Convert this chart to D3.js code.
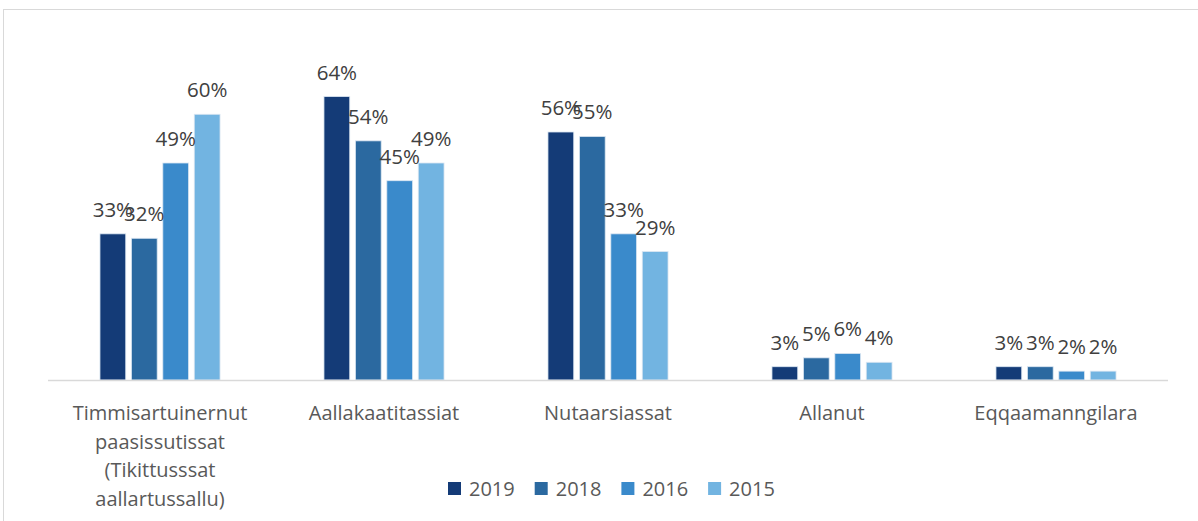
<!DOCTYPE html>
<html>
<head>
<meta charset="utf-8">
<script src="https://cdn.jsdelivr.net/npm/d3@7"></script>
<style>
  body { margin: 0; background: #fff; }
  text { font-family: "Open Sans", "Liberation Sans", sans-serif; }
</style>
</head>
<body>
<div id="chart"></div>
<script>
var categories = [
  ["Timmisartuinernut", "paasissutissat", "(Tikittusssat", "aallartussallu)"],
  ["Aallakaatitassiat"],
  ["Nutaarsiassat"],
  ["Allanut"],
  ["Eqqaamanngilara"]
]
var series = ["2019", "2018", "2016", "2015"]
var values2019 = [33, 64, 56, 3, 3]
var values2018 = [32, 54, 55, 5, 3]
var values2016 = [49, 45, 33, 6, 2]
var values2015 = [60, 49, 29, 4, 2]
var colors = ["#143b77", "#2b69a0", "#3a8acb", "#72b4e1"]

var allValues = [values2019, values2018, values2016, values2015]
var width = 1198, height = 521
var margin = {top: 70, left: 48, right: 30, bottom: 141}

var svg = d3.select("#chart").append("svg")
    .attr("width", width)
    .attr("height", height)

// chart frame, only top and left edges show in the picture
svg.append("rect")
    .attr("x", 3.5).attr("y", 9.5)
    .attr("width", width + 20).attr("height", height + 20)
    .style("fill", "none")
    .style("stroke", "#d9d9d9")
    .style("stroke-width", 1)

var catIdx = d3.range(categories.length)

var x0 = d3.scaleBand()
    .domain(catIdx)
    .range([margin.left, width - margin.right])
    .paddingInner(0.464)
    .paddingOuter(0.232)

var x1 = d3.scaleBand()
    .domain(series)
    .range([0, x0.bandwidth()])
    .paddingInner(0.18)

var y = d3.scaleLinear()
    .domain([0, 70])
    .range([height - margin.bottom, margin.top])

var data = []
catIdx.forEach(function(c) {
  series.forEach(function(s, i) {
    data.push({cat: c, series: s, color: colors[i], value: allValues[i][c]})
  })
})

var g = svg.append("g")

g.selectAll(".bar")
    .data(data)
    .enter()
    .append("rect")
    .attr("class", "bar")
    .attr("x", function(d) { return x0(d.cat) + x1(d.series) })
    .attr("y", function(d) { return y(d.value) })
    .attr("width", x1.bandwidth())
    .attr("height", function(d) { return y(0) - y(d.value) })
    .style("fill", function(d) { return d.color })
    .style("stroke", "#dbe6f2")
    .style("stroke-width", 0.8)

g.selectAll(".label")
    .data(data)
    .enter()
    .append("text")
    .attr("class", "label")
    .attr("x", function(d) { return x0(d.cat) + x1(d.series) + x1.bandwidth() / 2 })
    .attr("y", function(d) { return y(d.value) - 17 })
    .attr("text-anchor", "middle")
    .style("font-size", "20.5px")
    .style("fill", "#404040")
    .text(function(d) { return d.value + "%" })

// x axis line
svg.append("line")
    .attr("x1", margin.left).attr("x2", width - margin.right)
    .attr("y1", y(0) + 0.5).attr("y2", y(0) + 0.5)
    .style("stroke", "#d9d9d9")
    .style("stroke-width", 1.5)

var catLabels = svg.selectAll(".cat")
    .data(catIdx)
    .enter()
    .append("text")
    .attr("class", "cat")
    .attr("text-anchor", "middle")
    .attr("x", function(c) { return x0(c) + x0.bandwidth() / 2 })
    .attr("y", 420)
    .style("font-size", "20px")
    .style("fill", "#595959")

catLabels.selectAll("tspan")
    .data(function(c) { return categories[c] })
    .enter()
    .append("tspan")
    .attr("x", function() { var c = d3.select(this.parentNode).datum(); return x0(c) + x0.bandwidth() / 2 })
    .attr("dy", function(d, i) { return i == 0 ? 0 : 28.5 })
    .text(function(d) { return d })

// legend
var legend = svg.selectAll(".legend")
    .data(series)
    .enter()
    .append("g")
    .attr("class", "legend")
    .attr("transform", function(d, i) { return "translate(" + (448 + i * 86.7) + ",482)" })

legend.append("rect")
    .attr("width", 13).attr("height", 13)
    .style("fill", function(d, i) { return colors[i] })

legend.append("text")
    .attr("x", 21).attr("y", 13.5)
    .style("font-size", "20px")
    .style("fill", "#595959")
    .text(function(d) { return d })
</script>
</body>
</html>
